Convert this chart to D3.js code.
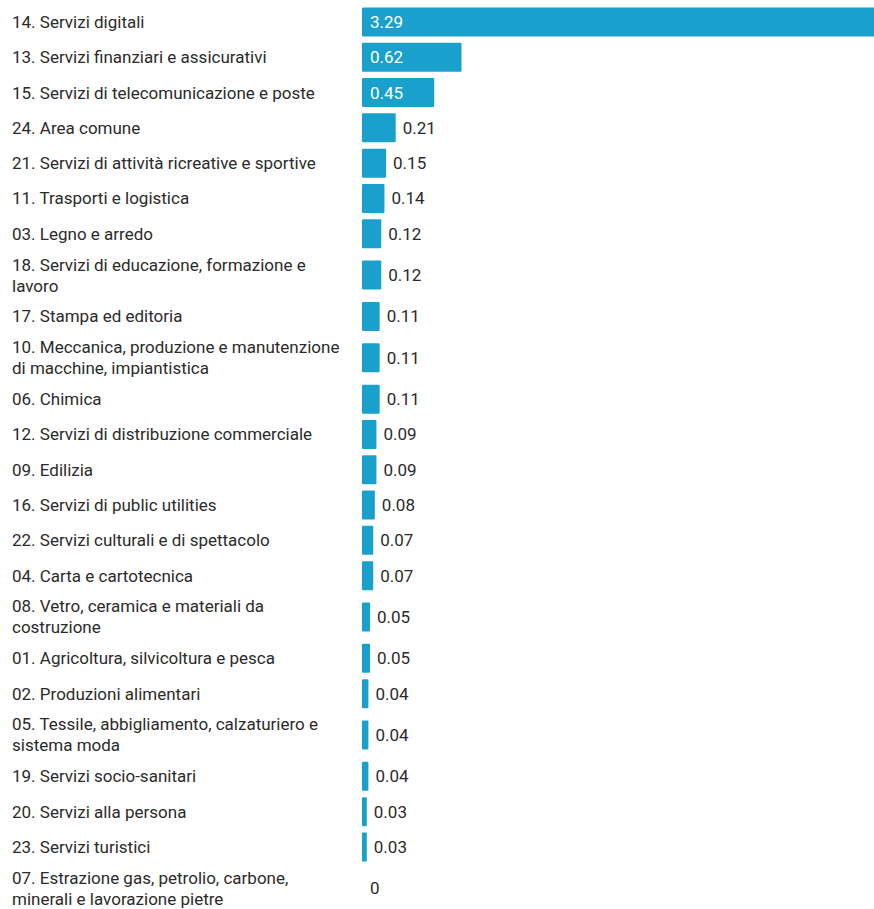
<!DOCTYPE html>
<html lang="it">
<head>
<meta charset="UTF-8">
<title>Settori</title>
<script src="https://cdnjs.cloudflare.com/ajax/libs/d3/7.8.5/d3.min.js"></script>
<style>
  body { margin: 0; background: #fff; }
  text { font-family: Roboto, "Noto Sans", sans-serif; }
</style>
</head>
<body>
<svg width="874" height="909"></svg>
<script>
const categories = [
  "14. Servizi digitali",
  "13. Servizi finanziari e assicurativi",
  "15. Servizi di telecomunicazione e poste",
  "24. Area comune",
  "21. Servizi di attività ricreative e sportive",
  "11. Trasporti e logistica",
  "03. Legno e arredo",
  "18. Servizi di educazione, formazione e lavoro",
  "17. Stampa ed editoria",
  "10. Meccanica, produzione e manutenzione di macchine, impiantistica",
  "06. Chimica",
  "12. Servizi di distribuzione commerciale",
  "09. Edilizia",
  "16. Servizi di public utilities",
  "22. Servizi culturali e di spettacolo",
  "04. Carta e cartotecnica",
  "08. Vetro, ceramica e materiali da costruzione",
  "01. Agricoltura, silvicoltura e pesca",
  "02. Produzioni alimentari",
  "05. Tessile, abbigliamento, calzaturiero e sistema moda",
  "19. Servizi socio-sanitari",
  "20. Servizi alla persona",
  "23. Servizi turistici",
  "07. Estrazione gas, petrolio, carbone, minerali e lavorazione pietre"
];
const values = [3.29, 0.62, 0.45, 0.21, 0.15, 0.14, 0.12, 0.12, 0.11, 0.11, 0.11, 0.09, 0.09, 0.08, 0.07, 0.07, 0.05, 0.05, 0.04, 0.04, 0.04, 0.03, 0.03, 0];

const svg = d3.select('svg');
const barLeft = 362;
const labelLeft = 12;
const labelMax = 340;
const barH = 29;
const lineH = 21;
const fontSize = '17px';
const color = '#1aa0cc';

const x = d3.scaleLinear()
    .domain([0, d3.max(values)])
    .range([barLeft, barLeft + 3.29 * 160.5]);

// wrap labels first, to know each row's height
const measure = svg.append('text').attr('font-size', fontSize);
const wrapped = categories.map(c => {
    const words = c.split(' ');
    const lines = [];
    let cur = '';
    words.forEach(w => {
        const test = cur ? cur + ' ' + w : w;
        measure.text(test);
        if (measure.node().getComputedTextLength() > labelMax && cur) {
            lines.push(cur);
            cur = w;
        } else {
            cur = test;
        }
    });
    lines.push(cur);
    return lines;
});
measure.remove();

const rowHeights = wrapped.map(l => l.length > 1 ? 47.4 : 35.3);
const rowTops = [];
let acc = 4.3;
rowHeights.forEach(h => { rowTops.push(acc); acc += h; });
const y = d3.scaleOrdinal().domain(categories).range(rowTops.map((t, i) => t + rowHeights[i] / 2));

const rows = svg.selectAll('g.row')
    .data(categories.map((c, i) => ({ name: c, value: values[i], lines: wrapped[i] })))
    .join('g')
    .attr('class', 'row')
    .attr('transform', d => `translate(0,${y(d.name)})`);

rows.append('text')
    .attr('x', labelLeft)
    .attr('font-size', fontSize)
    .attr('fill', '#2b2b2b')
    .each(function (d) {
        const n = d.lines.length;
        d3.select(this).selectAll('tspan')
            .data(d.lines)
            .join('tspan')
            .attr('x', labelLeft)
            .attr('y', (l, j) => (j - (n - 1) / 2) * lineH)
            .attr('dy', '0.35em')
            .text(l => l);
    });

rows.filter(d => d.value > 0)
    .append('rect')
    .attr('x', x(0))
    .attr('y', -barH / 2)
    .attr('width', d => x(d.value) - x(0))
    .attr('height', barH)
    .attr('rx', 1)
    .attr('fill', color);

rows.append('text')
    .attr('font-size', fontSize)
    .attr('dy', '0.35em')
    .text(d => d.value === 0 ? '0' : d3.format('.2f')(d.value))
    .each(function (d) {
        const w = this.getComputedTextLength();
        const bw = x(d.value) - x(0);
        const inside = bw > w + 16;
        d3.select(this)
            .attr('x', inside ? x(0) + 8 : x(d.value) + 7 + (d.value === 0 ? 1 : 0))
            .attr('fill', inside ? '#fff' : '#2b2b2b');
    });
</script>
</body>
</html>
